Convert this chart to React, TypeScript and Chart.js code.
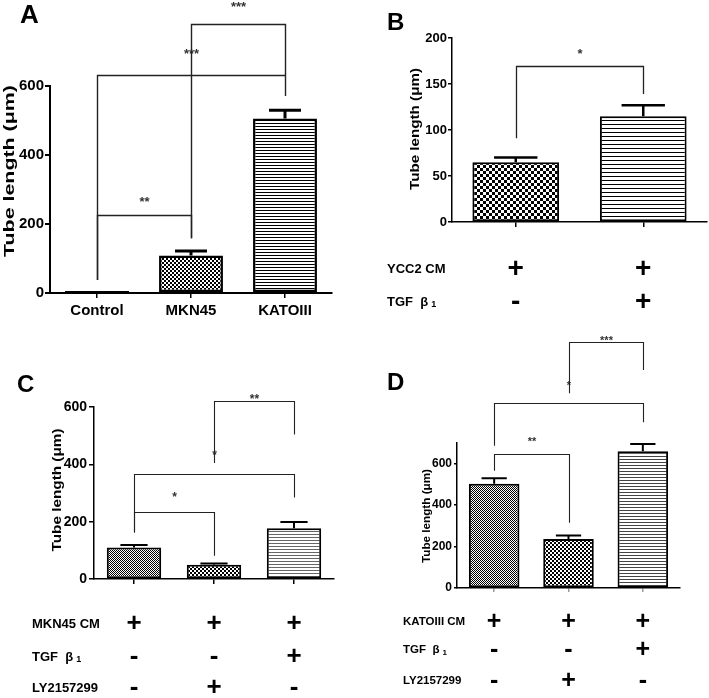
import React, { useEffect, useRef } from 'react';
import { Chart, registerables } from 'chart.js';

Chart.register(...registerables);

const FONT = "'Liberation Sans', Arial, Helvetica, sans-serif";

// ---------------- Panel A ----------------
const A_CATEGORIES = ['Control', 'MKN45', 'KATOIII'];
const A_MEANS = [6, 109, 506];
const A_SEMS = [0, 13, 24];
const A_Y_TICKS = [0, 200, 400, 600];
const A_PAIRS = [[0, 1], [0, 2], [1, 2]];
const A_PAIR_Y = [226, 632, 780];
const A_PAIR_LEGS = [[38, 159], [38, 571], [159, 632]];
const A_PAIR_MARKS = ['**', '***', '***'];
const A_PAIR_MARK_Y = [270, 701, 836];

// ---------------- Panel B ----------------
const B_CATEGORIES = ['YCC2 CM', 'YCC2 CM + TGF β1'];
const B_MEANS = [65, 115];
const B_SEMS = [5, 12];
const B_Y_TICKS = [0, 50, 100, 150, 200];
const B_PAIRS = [[0, 1]];
const B_PAIR_Y = [170];
const B_PAIR_LEGS = [[91, 139]];
const B_PAIR_MARKS = ['*'];
const B_PAIR_MARK_Y = [185];
const B_ROW_LABELS = ['YCC2 CM', 'TGF  β'];
const B_ROW_SUBS = ['', '1'];
const B_SIGNS = [['+', '+'], ['-', '+']];

// ---------------- Panel C ----------------
const C_CATEGORIES = ['MKN45 CM', 'MKN45 CM + LY2157299', 'MKN45 CM + TGF β1'];
const C_MEANS = [110, 50, 177];
const C_SEMS = [9, 4, 22];
const C_Y_TICKS = [0, 200, 400, 600];
const C_PAIRS = [[0, 1], [0, 2], [1, 2]];
const C_PAIR_Y = [232, 365, 620];
const C_PAIR_LEGS = [[162, 81], [162, 284], [405, 504]];
const C_PAIR_MARKS = ['*', '*', '**'];
const C_PAIR_MARK_Y = [293, 441, 635];
const C_ROW_LABELS = ['MKN45 CM', 'TGF  β', 'LY2157299'];
const C_ROW_SUBS = ['', '1', ''];
const C_SIGNS = [['+', '+', '+'], ['-', '-', '+'], ['-', '+', '-']];

// ---------------- Panel D ----------------
const D_CATEGORIES = ['KATOIII CM', 'KATOIII CM + LY2157299', 'KATOIII CM + TGF β1'];
const D_MEANS = [503, 236, 660];
const D_SEMS = [27, 18, 35];
const D_Y_TICKS = [0, 200, 400, 600];
const D_Y_MAX = 700;
const D_PAIRS = [[0, 1], [0, 2], [1, 2]];
const D_PAIR_Y = [647, 894, 1189];
const D_PAIR_LEGS = [[566, 315], [687, 800], [940, 1053]];
const D_PAIR_MARKS = ['**', '*', '***'];
const D_PAIR_MARK_Y = [720, 991, 1205];
const D_ROW_LABELS = ['KATOIII CM', 'TGF  β', 'LY2157299'];
const D_ROW_SUBS = ['', '1', ''];
const D_SIGNS = [['+', '+', '+'], ['-', '-', '+'], ['-', '+', '-']];

type Pat = { kind: 'check' | 'lines'; size: number; thick?: number; fg: string; bg: string };

type Spec = {
  letter: string;
  categories: string[];
  means: number[];
  sems: number[];
  yTicks: number[];
  yMax: number;
  pairs: number[][];
  pairY: number[];
  pairLegs: number[][];
  pairMarks: string[];
  pairMarkY: number[];
  rowLabels?: string[];
  rowSubs?: string[];
  signs?: string[][];
  canvas: { x: number; y: number; w: number; h: number };
  area: { l: number; t: number; r: number; b: number };
  patterns: Pat[];
  tickFont: number;
  yTickPad: number;
  yTickLen: number;
  axisWidth: number;
  showXLabels: boolean;
  xTickLen: number;
  xTickColor: string;
  xLabelPad: number;
  barBorder: number;
  errWidth: number;
  title: { cx: number; cy: number; font: number; len: number };
  letterPos: { x: number; y: number; font: number };
  table?: { x: number; rows: number[]; font: number; signFont: number };
  markFont: number;
  bracketWidth: number;
};

const SPECS: Spec[] = [
  {
    letter: 'A',
    categories: A_CATEGORIES, means: A_MEANS, sems: A_SEMS, yTicks: A_Y_TICKS,
    yMax: A_Y_TICKS[A_Y_TICKS.length - 1],
    pairs: A_PAIRS, pairY: A_PAIR_Y, pairLegs: A_PAIR_LEGS, pairMarks: A_PAIR_MARKS, pairMarkY: A_PAIR_MARK_Y,
    canvas: { x: 0, y: 0, w: 354, h: 330 },
    area: { l: 50, t: 86, r: 332, b: 293 },
    patterns: [
      { kind: 'check', size: 2, fg: '#000', bg: '#fff' },
      { kind: 'check', size: 2, fg: '#000', bg: '#fff' },
      { kind: 'lines', size: 3, thick: 1, fg: '#000', bg: '#fff' },
    ],
    tickFont: 15, yTickPad: 1, yTickLen: 5, axisWidth: 2,
    showXLabels: true, xTickLen: 5, xTickColor: '#000', xLabelPad: 4,
    barBorder: 2.5, errWidth: 3,
    title: { cx: 10, cy: 171, font: 14, len: 172 },
    letterPos: { x: 20, y: 23, font: 26 },
    markFont: 13, bracketWidth: 1.4,
  },
  {
    letter: 'B',
    categories: B_CATEGORIES, means: B_MEANS, sems: B_SEMS, yTicks: B_Y_TICKS,
    yMax: B_Y_TICKS[B_Y_TICKS.length - 1],
    pairs: B_PAIRS, pairY: B_PAIR_Y, pairLegs: B_PAIR_LEGS, pairMarks: B_PAIR_MARKS, pairMarkY: B_PAIR_MARK_Y,
    rowLabels: B_ROW_LABELS, rowSubs: B_ROW_SUBS, signs: B_SIGNS,
    canvas: { x: 354, y: 0, w: 355, h: 330 },
    area: { l: 452, t: 38, r: 707, b: 222 },
    patterns: [
      { kind: 'check', size: 3, fg: '#000', bg: '#fff' },
      { kind: 'lines', size: 4, thick: 1, fg: '#000', bg: '#fff' },
    ],
    tickFont: 13, yTickPad: 1, yTickLen: 4, axisWidth: 1.5,
    showXLabels: false, xTickLen: 5, xTickColor: '#000', xLabelPad: 3,
    barBorder: 2, errWidth: 2.5,
    title: { cx: 415, cy: 129, font: 13, len: 122 },
    letterPos: { x: 387, y: 30, font: 24 },
    table: { x: 387, rows: [269, 302], font: 13, signFont: 28 },
    markFont: 13, bracketWidth: 1.3,
  },
  {
    letter: 'C',
    categories: C_CATEGORIES, means: C_MEANS, sems: C_SEMS, yTicks: C_Y_TICKS,
    yMax: C_Y_TICKS[C_Y_TICKS.length - 1],
    pairs: C_PAIRS, pairY: C_PAIR_Y, pairLegs: C_PAIR_LEGS, pairMarks: C_PAIR_MARKS, pairMarkY: C_PAIR_MARK_Y,
    rowLabels: C_ROW_LABELS, rowSubs: C_ROW_SUBS, signs: C_SIGNS,
    canvas: { x: 0, y: 330, w: 354, h: 368 },
    area: { l: 94, t: 407, r: 334, b: 579 },
    patterns: [
      { kind: 'check', size: 1, fg: '#000', bg: '#fff' },
      { kind: 'check', size: 2, fg: '#000', bg: '#fff' },
      { kind: 'lines', size: 3, thick: 1, fg: '#666', bg: '#fff' },
    ],
    tickFont: 14, yTickPad: 2, yTickLen: 5, axisWidth: 1.5,
    showXLabels: false, xTickLen: 5, xTickColor: '#000', xLabelPad: 3,
    barBorder: 2, errWidth: 2,
    title: { cx: 57, cy: 490, font: 13, len: 123 },
    letterPos: { x: 17, y: 392, font: 24 },
    table: { x: 32, rows: [624, 657, 688], font: 13, signFont: 26 },
    markFont: 12, bracketWidth: 1.1,
  },
  {
    letter: 'D',
    categories: D_CATEGORIES, means: D_MEANS, sems: D_SEMS, yTicks: D_Y_TICKS,
    yMax: D_Y_MAX,
    pairs: D_PAIRS, pairY: D_PAIR_Y, pairLegs: D_PAIR_LEGS, pairMarks: D_PAIR_MARKS, pairMarkY: D_PAIR_MARK_Y,
    rowLabels: D_ROW_LABELS, rowSubs: D_ROW_SUBS, signs: D_SIGNS,
    canvas: { x: 354, y: 330, w: 355, h: 368 },
    area: { l: 457, t: 443, r: 680, b: 588 },
    patterns: [
      { kind: 'check', size: 1, fg: '#000', bg: '#fff' },
      { kind: 'check', size: 2, fg: '#000', bg: '#fff' },
      { kind: 'lines', size: 3, thick: 1, fg: '#444', bg: '#fff' },
    ],
    tickFont: 12, yTickPad: 2, yTickLen: 3, axisWidth: 1.5,
    showXLabels: false, xTickLen: 4, xTickColor: '#999', xLabelPad: 3,
    barBorder: 2, errWidth: 2,
    title: { cx: 427, cy: 516, font: 11, len: 94 },
    letterPos: { x: 387, y: 390, font: 24 },
    table: { x: 403, rows: [622, 650, 681], font: 11.5, signFont: 25 },
    markFont: 11, bracketWidth: 1.1,
  },
];

function makePattern(p: Pat): CanvasPattern | string {
  const c = document.createElement('canvas');
  const g = c.getContext('2d');
  if (!g) return p.fg;
  if (p.kind === 'check') {
    c.width = p.size * 2;
    c.height = p.size * 2;
    g.fillStyle = p.bg;
    g.fillRect(0, 0, c.width, c.height);
    g.fillStyle = p.fg;
    g.fillRect(0, 0, p.size, p.size);
    g.fillRect(p.size, p.size, p.size, p.size);
  } else {
    c.width = 4;
    c.height = p.size;
    g.fillStyle = p.bg;
    g.fillRect(0, 0, c.width, c.height);
    g.fillStyle = p.fg;
    g.fillRect(0, 0, c.width, p.thick || 1);
  }
  const pat = g.createPattern(c, 'repeat');
  return pat || p.fg;
}

function overlayPlugin(spec: Spec) {
  return {
    id: 'overlay' + spec.letter,
    afterDraw(chart: any) {
      const ctx: CanvasRenderingContext2D = chart.ctx;
      const meta = chart.getDatasetMeta(0);
      const ys = chart.scales.y;
      const ox = spec.canvas.x;
      const oy = spec.canvas.y;
      ctx.save();

      // error bars (upper SEM)
      ctx.strokeStyle = '#000';
      ctx.lineWidth = spec.errWidth;
      ctx.lineCap = 'butt';
      spec.means.forEach((m, i) => {
        const s = spec.sems[i];
        if (!s) return;
        const bar = meta.data[i];
        const x = bar.x;
        const y0 = ys.getPixelForValue(m);
        const y1 = ys.getPixelForValue(m + s);
        const half = bar.width / 4;
        ctx.beginPath();
        ctx.moveTo(x, y0);
        ctx.lineTo(x, y1);
        ctx.moveTo(x - half, y1);
        ctx.lineTo(x + half, y1);
        ctx.stroke();
      });

      // significance brackets
      ctx.strokeStyle = '#222';
      ctx.lineWidth = spec.bracketWidth;
      ctx.fillStyle = '#333';
      ctx.font = `bold ${spec.markFont}px ${FONT}`;
      ctx.textAlign = 'center';
      ctx.textBaseline = 'middle';
      spec.pairs.forEach(([a, b], k) => {
        const xa = Math.round(meta.data[a].x) + 0.5;
        const xb = Math.round(meta.data[b].x) + 0.5;
        const yb = Math.round(ys.getPixelForValue(spec.pairY[k])) + 0.5;
        const la = ys.getPixelForValue(spec.pairLegs[k][0]);
        const lb = ys.getPixelForValue(spec.pairLegs[k][1]);
        ctx.beginPath();
        ctx.moveTo(xa, la);
        ctx.lineTo(xa, yb);
        ctx.lineTo(xb, yb);
        ctx.lineTo(xb, lb);
        ctx.stroke();
        ctx.fillText(spec.pairMarks[k], (xa + xb) / 2, ys.getPixelForValue(spec.pairMarkY[k]) + 3);
      });

      // y axis title (stretched to reference length)
      ctx.fillStyle = '#000';
      ctx.font = `bold ${spec.title.font}px ${FONT}`;
      const titleText = 'Tube length (μm)';
      const tw = ctx.measureText(titleText).width;
      ctx.save();
      ctx.translate(spec.title.cx - ox, spec.title.cy - oy);
      ctx.rotate(-Math.PI / 2);
      ctx.scale(spec.title.len / tw, 1);
      ctx.textAlign = 'center';
      ctx.textBaseline = 'middle';
      ctx.fillText(titleText, 0, 0);
      ctx.restore();

      // panel letter
      ctx.font = `bold ${spec.letterPos.font}px ${FONT}`;
      ctx.textAlign = 'left';
      ctx.textBaseline = 'alphabetic';
      ctx.fillText(spec.letter, spec.letterPos.x - ox, spec.letterPos.y - oy);

      // condition table
      if (spec.table && spec.rowLabels && spec.signs) {
        const t = spec.table;
        spec.rowLabels.forEach((label, r) => {
          const ry = t.rows[r] - oy;
          ctx.font = `bold ${t.font}px ${FONT}`;
          ctx.textAlign = 'left';
          ctx.textBaseline = 'middle';
          ctx.fillText(label, t.x - ox, ry);
          const sub = spec.rowSubs ? spec.rowSubs[r] : '';
          if (sub) {
            const lw = ctx.measureText(label).width;
            ctx.font = `bold ${Math.round(t.font * 0.7)}px ${FONT}`;
            ctx.fillText(sub, t.x - ox + lw + 3, ry + 3);
          }
          ctx.font = `bold ${t.signFont}px ${FONT}`;
          ctx.textAlign = 'center';
          spec.signs![r].forEach((sg, i) => {
            ctx.fillText(sg, meta.data[i].x, ry);
          });
        });
      }
      ctx.restore();
    },
  };
}

function buildConfig(spec: Spec): any {
  const yW = spec.area.l - spec.canvas.x;
  const xH = spec.canvas.y + spec.canvas.h - spec.area.b;
  const step = spec.yTicks[1] - spec.yTicks[0];
  return {
    type: 'bar',
    data: {
      labels: spec.categories,
      datasets: [
        {
          data: spec.means,
          backgroundColor: spec.patterns.map(makePattern),
          borderColor: '#000',
          borderWidth: spec.barBorder,
          borderSkipped: false,
          categoryPercentage: 1,
          barPercentage: 0.68,
        },
      ],
    },
    options: {
      responsive: false,
      animation: false,
      devicePixelRatio: 1,
      events: [],
      layout: {
        padding: {
          left: 0,
          top: spec.area.t - spec.canvas.y,
          right: spec.canvas.x + spec.canvas.w - spec.area.r,
          bottom: 0,
        },
      },
      plugins: {
        legend: { display: false },
        tooltip: { enabled: false },
        title: { display: false },
      },
      scales: {
        x: {
          type: 'category',
          offset: true,
          grid: {
            display: true,
            drawOnChartArea: false,
            drawTicks: true,
            offset: false,
            tickLength: spec.xTickLen,
            color: spec.xTickColor,
            lineWidth: 1.5,
          },
          border: { display: true, color: '#000', width: spec.axisWidth },
          ticks: {
            display: spec.showXLabels,
            color: '#000',
            font: { family: FONT, size: spec.tickFont, weight: 'bold' },
            padding: spec.xLabelPad,
            maxRotation: 0,
            minRotation: 0,
            autoSkip: false,
          },
          afterFit: (s: any) => {
            s.height = xH;
          },
        },
        y: {
          type: 'linear',
          min: spec.yTicks[0],
          max: spec.yMax,
          grid: {
            display: true,
            drawOnChartArea: false,
            drawTicks: true,
            tickLength: spec.yTickLen,
            color: '#000',
            lineWidth: spec.axisWidth,
          },
          border: { display: true, color: '#000', width: spec.axisWidth },
          ticks: {
            stepSize: step,
            includeBounds: false,
            color: '#000',
            font: { family: FONT, size: spec.tickFont, weight: 'bold' },
            padding: spec.yTickPad,
          },
          afterFit: (s: any) => {
            s.width = yW;
          },
        },
      },
    },
    plugins: [overlayPlugin(spec)],
  };
}

function Panel({ spec }: { spec: Spec }) {
  const ref = useRef<HTMLCanvasElement>(null);
  useEffect(() => {
    if (!ref.current) return;
    const chart = new Chart(ref.current, buildConfig(spec));
    return () => chart.destroy();
  }, [spec]);
  return (
    <canvas
      ref={ref}
      width={spec.canvas.w}
      height={spec.canvas.h}
      style={{
        position: 'absolute',
        left: spec.canvas.x,
        top: spec.canvas.y,
        width: spec.canvas.w,
        height: spec.canvas.h,
      }}
    />
  );
}

export default function App() {
  useEffect(() => {
    document.body.style.margin = '0';
  }, []);
  return (
    <div
      style={{
        position: 'absolute',
        left: 0,
        top: 0,
        width: 709,
        height: 698,
        background: '#fff',
        overflow: 'hidden',
      }}
    >
      {SPECS.map((s) => (
        <Panel key={s.letter} spec={s} />
      ))}
    </div>
  );
}
